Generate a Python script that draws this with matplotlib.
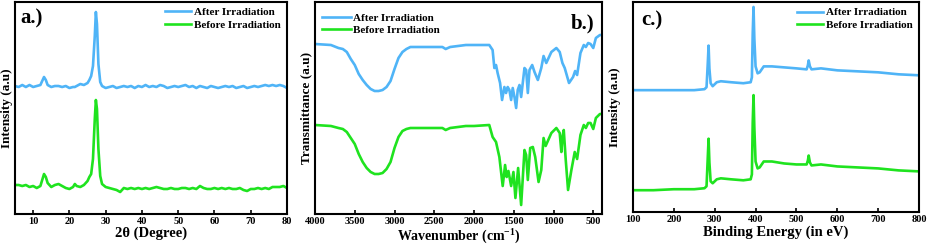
import matplotlib
matplotlib.use("Agg")
import matplotlib.pyplot as plt

# colours of the two spectra
after_color = "#4fb4f7"
before_color = "#1fe31f"

# ---- a.) XRD ----
xrd_2theta = [5, 6, 7, 8, 9, 10, 11, 12, 12.5, 13, 13.5, 14, 15, 16, 17, 18, 19, 20, 21, 21.5,
              22, 23, 24, 25, 25.5, 26, 26.5, 27, 27.3, 27.6, 28, 28.5, 29, 30, 31, 32, 33, 34, 35, 36,
              37, 38, 39, 40, 41, 42, 43, 44, 45, 46, 47, 48, 49, 50, 51, 52, 53, 54, 55, 56,
              57, 58, 59, 60, 61, 62, 63, 64, 65, 66, 67, 68, 69, 70, 71, 72, 73, 74, 75, 76,
              77, 78, 79, 80]
xrd_after = [128, 127, 129, 127, 129, 127, 128, 129, 133, 137, 134, 129, 127, 128, 128, 127, 128, 126, 127, 127,
             128, 130, 129, 131, 134, 138, 148, 178, 202, 190, 150, 132, 128, 126, 127, 128, 126, 127, 128, 127,
             128, 126, 128, 127, 129, 127, 128, 127, 129, 128, 126, 127, 128, 127, 128, 129, 127, 128, 126, 128,
             127, 126, 128, 127, 126, 127, 128, 127, 128, 126, 127, 128, 126, 127, 128, 127, 128, 129, 128, 129,
             128, 129, 128, 126]
xrd_before = [29, 29, 28, 29, 27, 28, 26, 28, 34, 40, 37, 31, 27, 29, 30, 28, 26, 25, 27, 30,
              28, 27, 29, 33, 37, 40, 55, 95, 114, 105, 65, 38, 30, 27, 26, 25, 24, 22, 26, 25,
              26, 25, 26, 25, 26, 25, 26, 27, 26, 25, 25, 26, 25, 25, 26, 26, 25, 26, 25, 28,
              26, 25, 25, 26, 25, 26, 25, 26, 25, 25, 26, 24, 23, 25, 25, 26, 25, 26, 25, 27,
              27, 27, 28, 26]

# ---- b.) FTIR ----
ftir_wn_after = [4000, 3800, 3705, 3650, 3600, 3550, 3500, 3450, 3400, 3350, 3300, 3250, 3200, 3150, 3100,
                 3050, 3000, 2950, 2900, 2850, 2800, 2600, 2398, 2356, 2300, 2103, 2000, 1808, 1766, 1744,
                 1723, 1703, 1672, 1647, 1618, 1597, 1576, 1555, 1533, 1513, 1491, 1470, 1450, 1428, 1407,
                 1365, 1344, 1323, 1302, 1268, 1239, 1197, 1154, 1125, 1091, 1027, 964, 922, 888, 859,
                 805, 754, 728, 703, 661, 619, 593, 564, 534, 500, 467, 416, 390]
ftir_after = [170, 169, 166, 165, 162, 155, 149, 140, 134, 129, 125, 123, 123, 124, 127,
              133, 145, 156, 162, 165, 167, 167, 167, 165, 167, 169, 169, 169, 164, 146,
              149, 141, 131, 114, 127, 121, 127, 124, 114, 126, 117, 106, 124, 129, 117,
              146, 144, 121, 144, 149, 142, 134, 146, 158, 151, 162, 166, 162, 151, 146,
              131, 137, 143, 139, 161, 169, 167, 171, 170, 166, 176, 179, 179]
ftir_wn_before = [4000, 3800, 3705, 3650, 3600, 3550, 3500, 3450, 3400, 3350, 3300, 3250, 3200, 3150, 3100,
                  3050, 3000, 2950, 2900, 2850, 2800, 2600, 2398, 2356, 2300, 2103, 2000, 1808, 1766, 1723,
                  1681, 1639, 1609, 1589, 1567, 1533, 1504, 1479, 1445, 1407, 1365, 1344, 1323, 1293, 1260,
                  1230, 1188, 1154, 1125, 1099, 1027, 964, 922, 901, 888, 871, 846, 817, 775, 733,
                  703, 661, 619, 593, 564, 534, 500, 467, 416, 390]
ftir_before = [89, 88, 86, 85, 82, 76, 70, 60, 52, 46, 42, 40, 40, 41, 45,
               52, 66, 77, 83, 85, 86, 86, 86, 84, 86, 88, 88, 89, 77, 72,
               57, 28, 49, 37, 43, 28, 42, 16, 46, 9, 64, 59, 34, 66, 67,
               57, 32, 44, 76, 68, 81, 86, 81, 62, 77, 84, 54, 24, 44, 62,
               55, 79, 89, 86, 91, 91, 85, 96, 100, 100]

# ---- c.) XPS ----
xps_ev = [100, 150, 200, 250, 275, 280, 283, 285, 287, 290, 295, 305, 315, 340, 370, 388, 391, 393, 395,
          397, 400, 405, 410, 420, 440, 470, 500, 525, 528, 530, 533, 537, 560, 600, 650, 700, 750, 800]
xps_after = [123, 123, 123, 123, 124, 126, 150, 168, 145, 130, 127, 131, 132, 131, 130, 131, 136, 180, 207,
             175, 147, 140, 141, 147, 147, 146, 145, 144, 148, 153, 147, 144, 145, 143, 142, 141, 139, 138]
xps_before = [22, 22, 23, 23, 24, 26, 55, 74, 50, 31, 29, 33, 34, 33, 32, 33, 38, 90, 118,
              85, 51, 44, 45, 51, 51, 49, 48, 48, 52, 57, 50, 47, 48, 46, 45, 44, 42, 41]

plt.rcParams["font.family"] = ["Liberation Serif", "DejaVu Serif"]
plt.rcParams["font.weight"] = "bold"
plt.rcParams["mathtext.fontset"] = "custom"
plt.rcParams["mathtext.bf"] = "Liberation Serif:bold"
plt.rcParams["mathtext.rm"] = "Liberation Serif:bold"

fig = plt.figure(figsize=(9.27, 2.44), dpi=100)
W, H = 927.0, 244.0


def make_axes(left, right, top=2, bottom=214):
    return fig.add_axes([left / W, 1 - bottom / H, (right - left) / W, (bottom - top) / H])


def style(ax, xlabel, ylabel, xlab_y, ylab_x):
    for s in ax.spines.values():
        s.set_linewidth(1.5)
    ax.set_yticks([])
    ax.tick_params(axis="x", direction="in", length=3, width=1.2, labelsize=7.5, pad=2, top=False)
    for t in ax.get_xticklabels():
        t.set_fontweight("bold")
    ax.set_xlabel(xlabel, fontsize=10.5, fontweight="bold", va="top")
    ax.set_ylabel(ylabel, fontsize=9.5, fontweight="bold")
    ax.xaxis.set_label_coords(0.5, xlab_y)
    ax.yaxis.set_label_coords(ylab_x, 0.5)
    ax.set_ylim(0, 212)


lw = 1.9

# a.)
ax1 = make_axes(15, 287)
ax1.plot(xrd_2theta, xrd_after, color=after_color, lw=lw, label="After Irradiation")
ax1.plot(xrd_2theta, xrd_before, color=before_color, lw=lw, label="Before Irradiation")
ax1.set_xlim(5, 80)
ax1.set_xticks(range(10, 81, 10))
style(ax1, "2θ (Degree)", "Intensity (a.u)", -0.06, -0.006)
ax1.text(0.02, 0.92, "a.)", transform=ax1.transAxes, fontsize=15, fontweight="bold", va="center")
ax1.legend(loc="upper right", bbox_to_anchor=(1.0, 1.005), frameon=False, fontsize=8,
           handlelength=2.4, handletextpad=0.2, labelspacing=0.25, borderaxespad=0.2)

# b.)
ax2 = make_axes(315, 602)
ax2.plot(ftir_wn_after, ftir_after, color=after_color, lw=lw, label="After Irradiation")
ax2.plot(ftir_wn_before, ftir_before, color=before_color, lw=lw, label="Before Irradiation")
ax2.set_xlim(4000, 390)
ax2.set_xticks(range(4000, 499, -500))
style(ax2, "Wavenumber (cm$^{-1}$)", "Transmittance (a.u)", -0.057, -0.008)
ax2.xaxis.label.set_fontsize(10)
ax2.text(0.975, 0.9, "b.)", transform=ax2.transAxes, fontsize=15, fontweight="bold",
         va="center", ha="right")
ax2.legend(loc="upper left", bbox_to_anchor=(0.0, 0.98), frameon=False, fontsize=8,
           handlelength=2.6, handletextpad=0.2, labelspacing=0.25, borderaxespad=0.2)

# c.)
ax3 = make_axes(633, 919, bottom=212)
ax3.plot(xps_ev, xps_after, color=after_color, lw=lw, label="After Irradiation")
ax3.plot(xps_ev, xps_before, color=before_color, lw=lw, label="Before Irradiation")
ax3.set_xlim(100, 800)
ax3.set_xticks(range(100, 801, 100))
style(ax3, "Binding Energy (in eV)", "Intensity (a.u)", -0.065, -0.042)
ax3.text(0.03, 0.91, "c.)", transform=ax3.transAxes, fontsize=15, fontweight="bold", va="center")
ax3.legend(loc="upper right", bbox_to_anchor=(1.0, 1.005), frameon=False, fontsize=8,
           handlelength=2.4, handletextpad=0.2, labelspacing=0.25, borderaxespad=0.2)

fig.savefig("out.png", dpi=100)
